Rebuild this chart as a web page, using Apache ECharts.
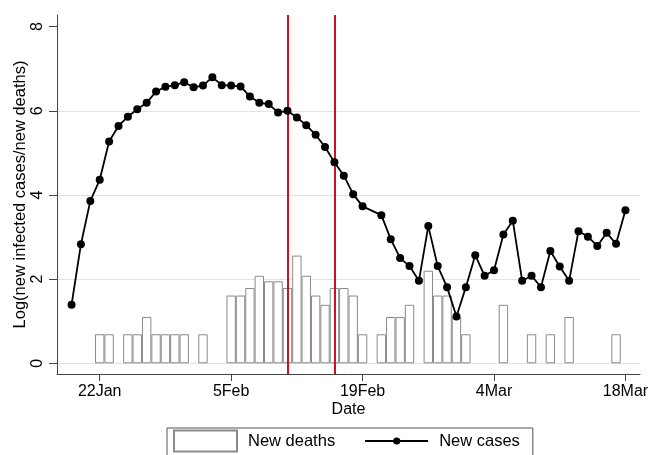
<!DOCTYPE html>
<html><head><meta charset="utf-8">
<script src="https://cdn.jsdelivr.net/npm/echarts@6/dist/echarts.min.js"></script>
<style>html,body{margin:0;padding:0;background:#fff}#c{width:650px;height:455px}</style>
</head><body><div id="c"></div>
<script>
// Log(new infected cases), one value per day starting 19 Jan 2020 (null = no point)
const casesStart = '2020-01-19';
const newCases = [
  1.39, 2.83, 3.86, 4.36, 5.27, 5.64, 5.86, 6.04, 6.19, 6.46, 6.57, 6.61, 6.68,
  6.56, 6.60, 6.80, 6.61, 6.60, 6.58, 6.34, 6.19, 6.16, 5.96, 6.00, 5.84, 5.66, 5.43, 5.14, 4.78, 4.46, 4.02, 3.73,
  null, 3.52, 2.95, 2.50, 2.31, 1.96, 3.26, 2.31, 1.81, 1.11,
  1.81, 2.57, 2.08, 2.21, 3.06, 3.39, 1.96, 2.08, 1.81, 2.67, 2.30, 1.96, 3.14, 3.01, 2.79, 3.10, 2.84, 3.64
];
// Log(new deaths), one value per day starting 22 Jan 2020 (null = no bar)
const deathsStart = '2020-01-22';
const newDeaths = [
  0.69, 0.69, null, 0.69, 0.69, 1.10, 0.69, 0.69, 0.69, 0.69,
  null, 0.69, null, null, 1.61, 1.61, 1.79, 2.08, 1.95, 1.95, 1.79, 2.56, 2.08, 1.61, 1.39, 1.79, 1.79, 1.61, 0.69,
  null, 0.69, 1.10, 1.10, 1.39, null, 2.20, 1.61, 1.61, 1.10,
  0.69, null, null, null, 1.39, null, null, 0.69, null, 0.69, null, 1.10, null, null, null, null, 0.69, null
];
const tickDates = ['2020-01-22', '2020-02-05', '2020-02-19', '2020-03-04', '2020-03-18'];
const tickLabels = ['22Jan', '5Feb', '19Feb', '4Mar', '18Mar'];
const policyDates = ['2020-02-11', '2020-02-16'];
const yTicks = [0, 2, 4, 6, 8];

const DAY = 86400000;
const origin = Date.UTC(2020, 0, 22);
function dayOf(s) { const p = s.split('-').map(Number); return (Date.UTC(p[0], p[1] - 1, p[2]) - origin) / DAY; }
function toSeries(start, arr) {
  const s = dayOf(start), out = [];
  arr.forEach((v, i) => { if (v !== null) out.push([s + i, v]); });
  return out;
}
const tickDays = tickDates.map(dayOf);
const policyDays = policyDates.map(dayOf);

const gridLeft = 57, gridWidth = 583, gridTop = 15, gridHeight = 359;
const xMin = -4.55, xMax = 57.55;
const yMin = -0.254, yMax = 8.277;
const FONT = 'Liberation Sans, Arial, sans-serif';

const chart = echarts.init(document.getElementById('c'), null, { renderer: 'canvas' });
chart.setOption({
  animation: false,
  backgroundColor: '#fff',
  textStyle: { fontFamily: FONT },
  grid: { left: gridLeft, top: gridTop, width: gridWidth, height: gridHeight, containLabel: false, outerBoundsMode: 'none' },
  xAxis: {
    type: 'value', min: xMin, max: xMax,
    name: 'Date', nameLocation: 'middle', nameGap: 28, nameMoveOverlap: false,
    nameTextStyle: { fontSize: 16, color: '#000', fontFamily: FONT },
    axisLine: { show: true, onZero: false, lineStyle: { color: '#444', width: 1 } },
    axisTick: { show: true, length: 7, customValues: tickDays, lineStyle: { color: '#444' } },
    axisLabel: { customValues: tickDays, fontSize: 16, color: '#000', margin: 10, fontFamily: FONT,
      formatter: v => tickLabels[tickDays.indexOf(v)] || '' },
    splitLine: { show: false }
  },
  yAxis: {
    type: 'value', min: yMin, max: yMax,
    name: 'Log(new infected cases/new deaths)', nameLocation: 'middle', nameGap: 28, nameMoveOverlap: false,
    nameTextStyle: { fontSize: 16.5, color: '#000', fontFamily: FONT },
    axisLine: { show: true, onZero: false, lineStyle: { color: '#444', width: 1 } },
    axisTick: { show: true, length: 8, customValues: yTicks, lineStyle: { color: '#444' } },
    axisLabel: { customValues: yTicks, rotate: 90, fontSize: 16, color: '#000', margin: 11, fontFamily: FONT },
    splitLine: { show: true, lineStyle: { color: ['#d6e6f0', '#d6e6f0', '#d6e6f0', '#d6e6f0', 'rgba(0,0,0,0)'], width: 1 } }
  },
  legend: {
    left: 167, top: 428, orient: 'horizontal',
    padding: [1.5, 13, 6, 6],
    borderColor: '#555', borderWidth: 1,
    itemWidth: 63, itemHeight: 21, itemGap: 30,
    textStyle: { fontSize: 16.5, color: '#000', fontFamily: FONT, padding: [0, 0, 0, 6] },
    data: [
      { name: 'New deaths', icon: 'rect' },
      { name: 'New cases',
        icon: 'path://M0,0M63,21M0,9.6L63,9.6L63,11.4L0,11.4ZM28,10.5A3.6,3.6 0 1 1 35.2,10.5A3.6,3.6 0 1 1 28,10.5Z',
        itemStyle: { color: '#000', borderWidth: 0 } }
    ]
  },
  series: [
    {
      name: 'New deaths', type: 'bar',
      data: toSeries(deathsStart, newDeaths),
      barWidth: gridWidth / (xMax - xMin),
      itemStyle: { color: '#fff', borderColor: '#8a8a8a', borderWidth: 1 },
      z: 2
    },
    {
      name: 'New cases', type: 'line',
      data: toSeries(casesStart, newCases),
      symbol: 'circle', symbolSize: 8,
      lineStyle: { color: '#000', width: 1.8 },
      itemStyle: { color: '#000' },
      z: 6,
      markLine: {
        silent: true, symbol: ['none', 'none'], label: { show: false },
        lineStyle: { color: '#cc1122', width: 2, type: 'solid' },
        data: policyDays.map(d => ({ xAxis: d })),
        z: 4
      }
    }
  ]
});
</script></body></html>
